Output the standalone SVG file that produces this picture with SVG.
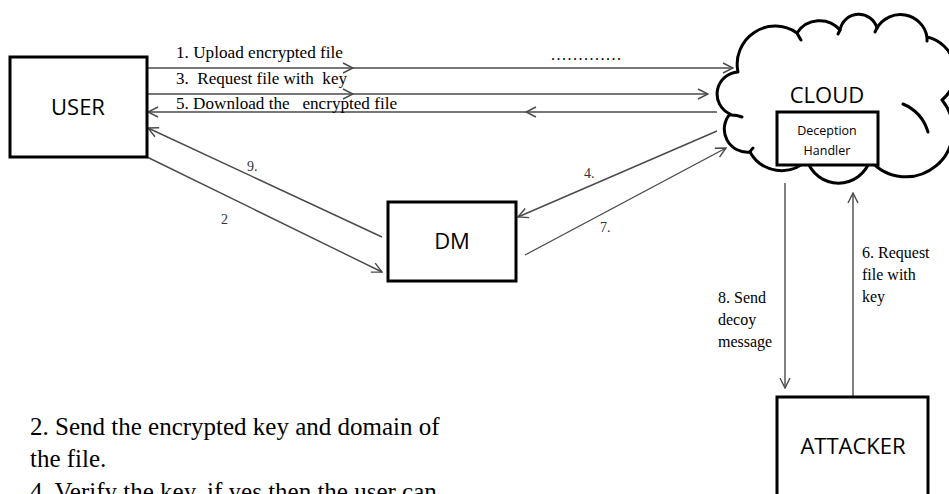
<svg xmlns="http://www.w3.org/2000/svg" width="949" height="494" viewBox="0 0 949 494">
  <style>
    .box { fill: #fff; stroke: #000; stroke-width: 3; }
    .cloud { fill: #fff; stroke: #000; stroke-width: 3; stroke-linejoin: round; }
    .stub { fill: none; stroke: #000; stroke-width: 3; stroke-linecap: round; }
    .conn { fill: none; stroke: #4a4a4a; stroke-width: 1.4; }
    .sans { font-family: "Open Sans", "Liberation Sans", sans-serif; fill: #000; text-anchor: middle; }
    .serif { font-family: "Liberation Serif", "Times New Roman", serif; fill: #000; white-space: pre; }
    .lbl { font-family: "Liberation Serif", "Times New Roman", serif; fill: #333; font-size: 14px; }
  </style>
  <defs>
    <marker id="arrow" viewBox="0 0 12 12" refX="11" refY="6" markerWidth="12" markerHeight="12" markerUnits="userSpaceOnUse" orient="auto">
      <path d="M1,1 L11,6 L1,11" fill="none" stroke="#4a4a4a" stroke-width="1.4"/>
    </marker>
  </defs>

  <rect width="949" height="494" fill="#fff"/>

  <!-- connectors -->
  <g id="connectors">
    <polyline class="conn" points="147,68 353,68 733,68" marker-mid="url(#arrow)" marker-end="url(#arrow)"/>
    <polyline class="conn" points="147,94 353,94 708,94" marker-mid="url(#arrow)" marker-end="url(#arrow)"/>
    <polyline class="conn" points="717,112 526,112 148,112" marker-mid="url(#arrow)" marker-end="url(#arrow)"/>
    <line class="conn" x1="382" y1="237" x2="148" y2="128" marker-end="url(#arrow)"/>
    <line class="conn" x1="147" y1="157" x2="382" y2="272" marker-end="url(#arrow)"/>
    <line class="conn" x1="717" y1="131" x2="518" y2="217" marker-end="url(#arrow)"/>
    <line class="conn" x1="525" y1="255" x2="726" y2="148" marker-end="url(#arrow)"/>
    <line class="conn" x1="785" y1="183" x2="785" y2="388" marker-end="url(#arrow)"/>
    <line class="conn" x1="853" y1="397" x2="853" y2="193" marker-end="url(#arrow)"/>

    <text class="serif" x="176" y="58" font-size="16" textLength="167" lengthAdjust="spacingAndGlyphs">1. Upload encrypted file</text>
    <text class="serif" x="176" y="84" font-size="16" textLength="171" lengthAdjust="spacingAndGlyphs">3.  Request file with  key</text>
    <text class="serif" x="176" y="109" font-size="16" textLength="221" lengthAdjust="spacingAndGlyphs">5. Download the   encrypted file</text>
    <text class="serif" x="551" y="60" font-size="16" textLength="70" lengthAdjust="spacing">.............</text>

    <text class="lbl" x="247" y="171">9.</text>
    <text class="lbl" x="221" y="224">2</text>
    <text class="lbl" x="584" y="178">4.</text>
    <text class="lbl" x="600" y="232">7.</text>

    <text class="serif" font-size="16" x="718" y="303">8. Send</text>
    <text class="serif" font-size="16" x="718" y="325">decoy</text>
    <text class="serif" font-size="16" x="718" y="347">message</text>

    <text class="serif" font-size="16" x="862" y="258">6. Request</text>
    <text class="serif" font-size="16" x="862" y="280">file with</text>
    <text class="serif" font-size="16" x="862" y="302">key</text>
  </g>

  <!-- user -->
  <g id="user">
    <rect class="box" x="10" y="57" width="137" height="100"/>
    <text class="sans" x="78" y="115" font-size="22">USER</text>
  </g>

  <!-- decision maker -->
  <g id="dm">
    <rect class="box" x="388" y="202" width="128" height="79"/>
    <text class="sans" x="452" y="249" font-size="22">DM</text>
  </g>

  <!-- cloud with deception handler -->
  <g id="cloud">
    <path class="cloud" d="M730,114
      A22,22 0 0 1 738,72
      A38,38 0 0 1 797,33
      A27,27 0 0 1 840,30
      A19,19 0 0 1 877,28
      A27,27 0 0 1 927,37
      A36,36 0 0 1 942,100
      A42,42 0 0 1 870,160
      A33,33 0 0 1 807,160
      A36,36 0 0 1 750,152
      A23,23 0 0 1 730,114 Z"/>
    <path class="stub" d="M797,33 Q799,37 801,40"/>
    <path class="stub" d="M840,30 Q839,32 838,34"/>
    <path class="stub" d="M877,28 Q876,30 875,32"/>
    <path class="stub" d="M927,37 Q927,39 927,41"/>
    <path class="stub" d="M903,104 Q922,112 928,132"/>
    <path class="stub" d="M731,115 Q737,115 742,117"/>
    <path class="stub" d="M750,152 Q751,150 753,148"/>
    <text class="sans" x="827" y="103" font-size="22">CLOUD</text>
    <g id="deception-handler">
      <rect class="box" x="777" y="112" width="101" height="53"/>
      <text class="sans" x="827" y="135" font-size="12.5">Deception</text>
      <text class="sans" x="827" y="155" font-size="12.5">Handler</text>
    </g>
  </g>

  <!-- attacker -->
  <g id="attacker">
    <rect class="box" x="777" y="397" width="151" height="110"/>
    <text class="sans" x="853" y="454" font-size="22">ATTACKER</text>
  </g>

  <!-- notes -->
  <g id="notes">
    <text class="serif" x="30" y="435" font-size="25">2. Send the encrypted key and domain of</text>
    <text class="serif" x="30" y="467" font-size="25">the file.</text>
    <text class="serif" x="30" y="500" font-size="25">4. Verify the key, if yes then the user can</text>
  </g>
</svg>
